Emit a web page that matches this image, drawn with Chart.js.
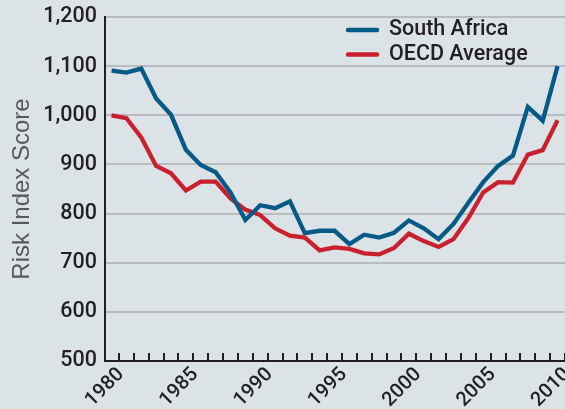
<!DOCTYPE html>
<html>
<head>
<meta charset="utf-8">
<script src="https://cdn.jsdelivr.net/npm/chart.js@4.4.1/dist/chart.umd.min.js"></script>
<style>
  html, body { margin: 0; padding: 0; background: #dce3e7; }
  #wrap { width: 565px; height: 409px; position: relative; }
</style>
</head>
<body>
<div id="wrap"><canvas id="chart"></canvas></div>
<script>
const years = [
    1980, 1981, 1982, 1983, 1984, 1985, 1986, 1987, 1988, 1989,
    1990, 1991, 1992, 1993, 1994, 1995, 1996, 1997, 1998, 1999,
    2000, 2001, 2002, 2003, 2004, 2005, 2006, 2007, 2008, 2009, 2010,
];
const southAfrica = [
    1091, 1087, 1095, 1034, 1001, 930, 899, 884, 843, 787,
    817, 811, 825, 760, 765, 765, 738, 757, 751, 761,
    786, 770, 748, 779, 822, 864, 897, 918, 1017, 989, 1100,
];
const oecdAverage = [
    1000, 994, 955, 897, 882, 847, 865, 865, 831, 808,
    797, 770, 755, 751, 725, 731, 728, 719, 717, 730,
    759, 744, 732, 748, 791, 843, 864, 863, 920, 929, 990,
];
const labeledYears = [1980, 1985, 1990, 1995, 2000, 2005, 2010];
const yRange = { min: 500, max: 1200, step: 100 };

const COLORS = {
    southAfrica: '#065a86',
    oecd:        '#c8202f',
    text:        '#231f20',
    title:       '#58595b',
    grid:        '#b9bcbe',
};

const FONT = 'Roboto, "Liberation Sans", Arial, sans-serif';
const TITLE_FONT = '"Liberation Sans", Arial, sans-serif';

// year tick marks sit half a year right of the data points, drawn inward
const innerTicks = {
    id: 'innerTicks',
    afterDraw(chart) {
        const { ctx, chartArea, scales: { x } } = chart;
        ctx.save();
        ctx.strokeStyle = COLORS.text;
        ctx.lineWidth = 2;
        ctx.beginPath();
        x.ticks.forEach(t => {
            const px = Math.round(x.getPixelForValue(t.value));
            ctx.moveTo(px, chartArea.bottom);
            ctx.lineTo(px, chartArea.bottom - 8);
        });
        ctx.stroke();
        ctx.restore();
    },
};

const insideLegend = {
    id: 'insideLegend',
    afterDatasetsDraw(chart) {
        const { ctx } = chart;
        ctx.save();
        ctx.font = `500 21.5px ${FONT}`;
        ctx.textBaseline = 'middle';
        ctx.lineCap = 'round';
        chart.data.datasets.forEach((ds, i) => {
            const y = 30 + i * 24.5;
            ctx.strokeStyle = ds.borderColor;
            ctx.lineWidth = 4.5;
            ctx.beginPath();
            ctx.moveTo(348, y);
            ctx.lineTo(377, y);
            ctx.stroke();
            ctx.fillStyle = COLORS.text;
            ctx.fillText(ds.label, 389, y);
        });
        ctx.restore();
    },
};

new Chart(document.getElementById('chart'), {
    type: 'line',
    data: {
        datasets: [
            {
                label: 'South Africa',
                data: years.map((yr, i) => ({ x: yr, y: southAfrica[i] })),
                borderColor: COLORS.southAfrica,
                borderWidth: 4.3,
                pointRadius: 0,
                tension: 0,
            },
            {
                label: 'OECD Average',
                data: years.map((yr, i) => ({ x: yr, y: oecdAverage[i] })),
                borderColor: COLORS.oecd,
                borderWidth: 4.3,
                pointRadius: 0,
                tension: 0,
            },
        ],
    },
    options: {
        responsive: true,
        maintainAspectRatio: false,
        animation: false,
        layout: { padding: { top: 17, right: 0, bottom: 0, left: 0 } },
        plugins: {
            legend: { display: false },
            tooltip: { enabled: false },
        },
        scales: {
            x: {
                type: 'linear',
                min: years[0] - 0.44,
                max: years[years.length - 1] + 0.5,
                afterBuildTicks: scale => {
                    scale.ticks = years.map(yr => ({ value: yr + 0.5 }));
                },
                afterFit: scale => {
                    scale.height = 48;
                    scale.paddingLeft = 0;
                    scale.paddingRight = 0;
                },
                ticks: {
                    autoSkip: false,
                    minRotation: 45,
                    maxRotation: 45,
                    padding: 2,
                    labelOffset: 2,
                    color: COLORS.text,
                    font: { family: FONT, size: 20, weight: 500 },
                    callback: v => labeledYears.includes(v - 0.5) ? String(v - 0.5) : '',
                },
                grid: { display: true, drawOnChartArea: false, drawTicks: false },
                border: { display: true, color: COLORS.text, width: 2 },
            },
            y: {
                min: yRange.min,
                max: yRange.max,
                afterFit: scale => {
                    scale.width = 105;
                    scale.paddingTop = 0;
                    scale.paddingBottom = 0;
                },
                ticks: {
                    stepSize: yRange.step,
                    padding: 8,
                    color: COLORS.text,
                    font: { family: FONT, size: 21.5, weight: 500 },
                    callback: v => v.toLocaleString('en-US'),
                },
                grid: { color: COLORS.grid, lineWidth: 2, drawTicks: false },
                border: { display: true, color: COLORS.text, width: 2 },
                title: {
                    display: true,
                    text: 'Risk Index Score',
                    color: COLORS.title,
                    padding: { top: 8, bottom: 0 },
                    font: { family: TITLE_FONT, size: 24, weight: 'normal' },
                },
            },
        },
    },
    plugins: [innerTicks, insideLegend],
});
</script>
</body>
</html>
